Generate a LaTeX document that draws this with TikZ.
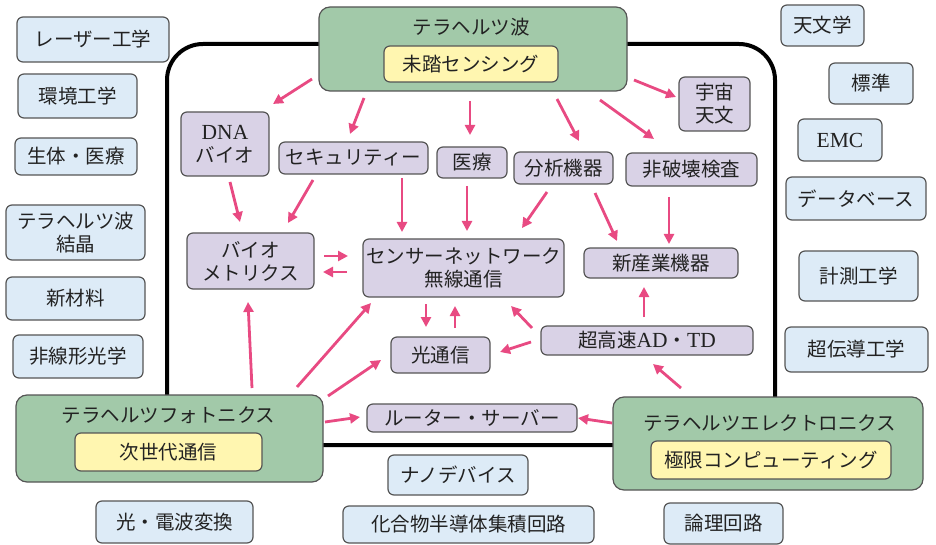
\documentclass[tikz,border=0pt]{standalone}
\usepackage{fontspec}
\setmainfont{Noto Sans CJK JP}
\newfontfamily\latfont{Liberation Serif}
\newcommand\lat{\latfont\fontsize{21.5}{23}\selectfont}
\usetikzlibrary{arrows.meta}
\definecolor{bluef}{HTML}{DDEBF7}
\definecolor{purpf}{HTML}{D9D2E6}
\definecolor{greenf}{HTML}{A2C9A9}
\definecolor{yelf}{HTML}{FFF6B0}
\definecolor{boxline}{HTML}{555555}
\definecolor{pinkc}{HTML}{E84A82}
\definecolor{txt}{HTML}{222222}
\tikzset{
  box/.style={draw=boxline, line width=1.2pt, rounded corners=6pt, inner sep=0pt, align=center, text=txt},
  bluebox/.style={box, fill=bluef},
  purpbox/.style={box, fill=purpf},
  greenbox/.style={box, fill=greenf, rounded corners=11pt},
  yelbox/.style={box, fill=yelf},
  sz/.style 2 args={minimum width=#1pt, minimum height=#2pt},
  titletext/.style={inner sep=0pt, text=txt},
  arr/.style={draw=pinkc, line width=2.8pt, -{Triangle[length=10pt,width=10pt]}},
  frame/.style={draw=black, line width=4pt, rounded corners=36pt, inner sep=0pt}
}
\begin{document}
\begin{tikzpicture}[x=1pt,y=-1pt, font=\fontsize{19.5}{23}\selectfont]
\useasboundingbox (0,0) rectangle (936,545);
% big frame
\node[frame, sz={608}{401}] (frame) at (471,244.5) {};
% left column
\node[bluebox, sz={152}{45}] (laser) at (93,39.5) {レーザー工学};
\node[bluebox, sz={119}{44}] (kankyo) at (77.5,96) {環境工学};
\node[bluebox, sz={122}{37}] (seitai) at (76,156.5) {生体・医療};
\node[bluebox, sz={139}{55}] (kessho) at (75.5,232.5) {テラヘルツ波\\結晶};
\node[bluebox, sz={139}{43}] (shinzai) at (75.5,298.5) {新材料};
\node[bluebox, sz={130}{43}] (hisenkei) at (78,356.5) {非線形光学};
% right column
\node[bluebox, sz={83}{41}] (tenmon) at (822.5,25.5) {天文学};
\node[bluebox, sz={84}{41}] (hyojun) at (871,83.5) {標準};
\node[bluebox, sz={84}{42}] (emc) at (840,140) {\lat EMC};
\node[bluebox, sz={140}{43}] (db) at (856,198.5) {データベース};
\node[bluebox, sz={119}{50}] (keisoku) at (858.5,276) {計測工学};
\node[bluebox, sz={143}{45}] (chodendo) at (856.5,349.5) {超伝導工学};
% bottom
\node[bluebox, sz={157}{42}] (hikaridenpa) at (174.5,522) {光・電波変換};
\node[bluebox, sz={140}{40}] (nano) at (458,475) {ナノデバイス};
\node[bluebox, sz={251}{37}] (kagobutsu) at (468.5,524.5) {化合物半導体集積回路};
\node[bluebox, sz={119}{41}] (ronri) at (723.5,523.5) {論理回路};
% green boxes
\node[greenbox, sz={308}{84}] (thz) at (473,49) {};
\node[titletext] (thzt) at (471,27) {テラヘルツ波};
\node[yelbox, sz={174}{36}] (mito) at (471,64) {未踏センシング};
\node[greenbox, sz={307}{87}] (photo) at (169.5,438.5) {};
\node[titletext] (photot) at (168.5,415) {テラヘルツフォトニクス};
\node[yelbox, sz={187}{38}] (jisedai) at (168.5,452) {次世代通信};
\node[greenbox, sz={310}{93}] (elec) at (768,443.5) {};
\node[titletext] (elect) at (769.5,423.5) {テラヘルツエレクトロニクス};
\node[yelbox, sz={240}{38}] (kyokugen) at (771,460) {極限コンピューティング};
% purple boxes
\node[purpbox, sz={88}{64}] (dna) at (225,144) {{\lat DNA}\\バイオ};
\node[purpbox, sz={149}{32}] (sec) at (353.5,158) {セキュリティー};
\node[purpbox, sz={70}{31}] (iryo) at (472,162.5) {医療};
\node[purpbox, sz={99}{32}] (bunseki) at (563.5,168) {分析機器};
\node[purpbox, sz={131}{33}] (hihakai) at (691.5,169.5) {非破壊検査};
\node[purpbox, sz={71}{54}] (uchu) at (714.5,104) {宇宙\\天文};
\node[purpbox, sz={127}{56}] (biom) at (250.5,261) {バイオ\\メトリクス};
\node[purpbox, sz={201}{58}] (sensor) at (463.5,268) {センサーネットワーク\\無線通信};
\node[purpbox, sz={99}{36}] (hikari) at (440.5,355) {光通信};
\node[purpbox, sz={154}{30}] (shinsangyo) at (661,263) {新産業機器};
\node[purpbox, sz={212}{29}] (ad) at (647,340.5) {超高速{\lat AD}・{\lat TD}};
\node[purpbox, sz={210}{28}] (router) at (472,418) {ルーター・サーバー};
% arrows
\draw[arr] ([shift={(-161,30)}]thz.center) -- ([shift={(48,-40)}]dna.center);
\draw[arr] ([shift={(-109,49)}]thz.center) -- ([shift={(-3.5,-24)}]sec.center);
\draw[arr] ([shift={(-3,52)}]thz.center) -- ([shift={(-2,-27.5)}]iryo.center);
\draw[arr] ([shift={(84,50)}]thz.center) -- ([shift={(15.5,-27)}]bunseki.center);
\draw[arr] ([shift={(127,51)}]thz.center) -- ([shift={(-37.5,-30.5)}]hihakai.center);
\draw[arr] ([shift={(161,31)}]thz.center) -- ([shift={(-38.5,-7)}]uchu.center);
\draw[arr] ([shift={(5,38)}]dna.center) -- ([shift={(-10.5,-39)}]biom.center);
\draw[arr] ([shift={(-40.5,22)}]sec.center) -- ([shift={(37.5,-38)}]biom.center);
\draw[arr] ([shift={(48.5,20)}]sec.center) -- ([shift={(-61.5,-36)}]sensor.center);
\draw[arr] ([shift={(-5,23.5)}]iryo.center) -- ([shift={(3.5,-37)}]sensor.center);
\draw[arr] ([shift={(-16.5,24)}]bunseki.center) -- ([shift={(58.5,-40)}]sensor.center);
\draw[arr] ([shift={(31.5,25)}]bunseki.center) -- ([shift={(-44,-22)}]shinsangyo.center);
\draw[arr] ([shift={(-22.5,27.5)}]hihakai.center) -- ([shift={(8,-19)}]shinsangyo.center);
\draw[arr] ([shift={(73.5,-5)}]biom.center) -- ([shift={(-115.5,-12)}]sensor.center);
\draw[arr] ([shift={(-116.5,4)}]sensor.center) -- ([shift={(72.5,11)}]biom.center);
\draw[arr] ([shift={(-37.5,36)}]sensor.center) -- ([shift={(-14.5,-28)}]hikari.center);
\draw[arr] ([shift={(14.5,-27)}]hikari.center) -- ([shift={(-8.5,38)}]sensor.center);
\draw[arr] ([shift={(82.5,-50.5)}]photo.center) -- ([shift={(-2.5,41)}]biom.center);
\draw[arr] ([shift={(127.5,-51.5)}]photo.center) -- ([shift={(-92.5,35)}]sensor.center);
\draw[arr] ([shift={(158.5,-42.5)}]photo.center) -- ([shift={(-59.5,5)}]hikari.center);
\draw[arr] ([shift={(-115,-12.5)}]ad.center) -- ([shift={(47.5,38)}]sensor.center);
\draw[arr] ([shift={(-116,1.5)}]ad.center) -- ([shift={(59.5,-3)}]hikari.center);
\draw[arr] ([shift={(-3,-23.5)}]ad.center) -- ([shift={(-17,24)}]shinsangyo.center);
\draw[arr] ([shift={(-87,-55.5)}]elec.center) -- ([shift={(6,23.5)}]ad.center);
\draw[arr] ([shift={(155.5,-16.5)}]photo.center) -- ([shift={(-112,-1)}]router.center);
\draw[arr] ([shift={(-156,-20.5)}]elec.center) -- ([shift={(106,0)}]router.center);
\end{tikzpicture}
\end{document}
